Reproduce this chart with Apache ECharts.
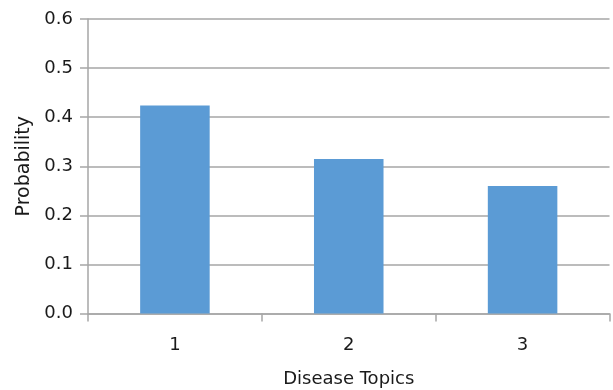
<!DOCTYPE html>
<html>
<head>
<meta charset="utf-8">
<script src="https://cdn.jsdelivr.net/npm/echarts@6/dist/echarts.min.js"></script>
<style>
  html, body { margin: 0; padding: 0; background: #fff; }
  #chart { width: 613px; height: 390px; }
</style>
</head>
<body>
<div id="chart"></div>
<script>
// Topic labels and the probability of each disease topic
const topics = ['1', '2', '3'];
const probabilities = [0.424, 0.315, 0.26];
const yTicks = [0, 0.1, 0.2, 0.3, 0.4, 0.5, 0.6];

const FONT = '"DejaVu Sans", sans-serif';
const TEXT = '#1a1a1a';
const GRID_GRAY = '#a6a6a6';

const chart = echarts.init(document.getElementById('chart'), null, { renderer: 'canvas' });

chart.setOption({
  animation: false,
  grid: {
    left: 88, right: 3.5, top: 19, bottom: 76.5,
    containLabel: false,
    outerBoundsMode: 'none'
  },
  xAxis: {
    type: 'category',
    data: topics,
    boundaryGap: true,
    name: 'Disease Topics',
    nameLocation: 'middle',
    nameGap: 57,
    nameTextStyle: { fontFamily: FONT, fontSize: 18, color: TEXT },
    axisLine: { lineStyle: { color: GRID_GRAY, width: 1.5 } },
    axisTick: { show: true, length: 8, alignWithLabel: false, lineStyle: { color: GRID_GRAY, width: 1.5 } },
    axisLabel: { fontFamily: FONT, fontSize: 18, color: TEXT, margin: 23 }
  },
  yAxis: {
    type: 'value',
    min: yTicks[0],
    max: yTicks[yTicks.length - 1],
    interval: 0.1,
    name: 'Probability',
    nameLocation: 'middle',
    nameGap: 54,
    nameRotate: 90,
    nameTextStyle: { fontFamily: FONT, fontSize: 19, color: TEXT },
    axisLine: { show: true, lineStyle: { color: GRID_GRAY, width: 1.5 } },
    axisTick: { show: true, length: 8, lineStyle: { color: GRID_GRAY, width: 1.5 } },
    axisLabel: {
      fontFamily: FONT, fontSize: 18, color: TEXT, margin: 15,
      formatter: v => v.toFixed(1)
    },
    splitLine: { show: true, lineStyle: { color: GRID_GRAY, width: 1.5 } }
  },
  series: [{
    type: 'bar',
    data: probabilities,
    barWidth: '40%',
    itemStyle: { color: '#5b9bd5' }
  }]
});
</script>
</body>
</html>
